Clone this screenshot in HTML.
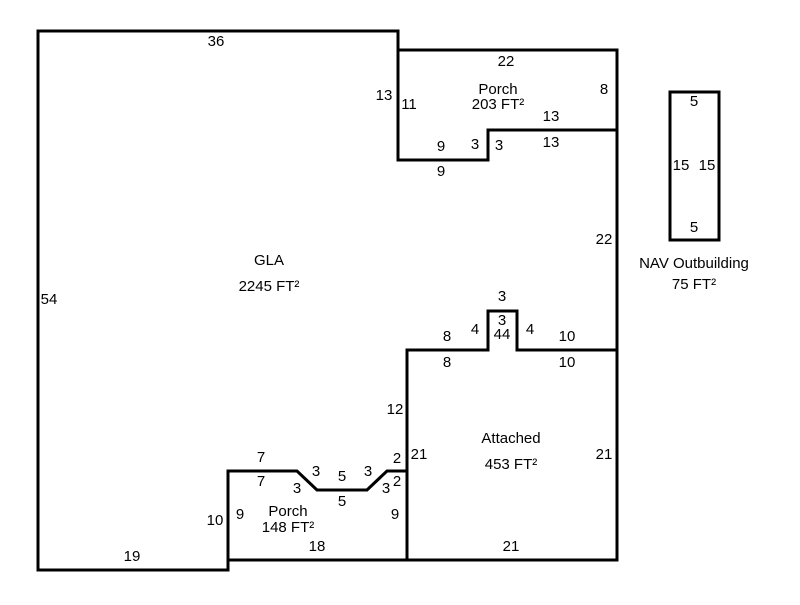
<!DOCTYPE html>
<html><head><style>body{margin:0;background:#fff}</style></head><body>
<svg width="800" height="600" xmlns="http://www.w3.org/2000/svg" font-family="Liberation Sans, sans-serif" font-size="15" fill="#000">
<rect width="800" height="600" fill="#fff"/>
<g stroke="#000" stroke-width="3" fill="none">
<path d="M38,31 H398 V160 H488 V130 H617 V560 H228 V570 H38 Z"/>
<path d="M398,50 H617 V130"/>
<path d="M407,560 V350 H488 V311 H517 V350 H617"/>
<path d="M228,560 V471 H297 L317,490 H367 L387,471 H407"/>
<rect x="670" y="92" width="49" height="148"/>
</g>
<g text-anchor="middle" stroke="none">
<text x="216" y="46">36</text>
<text x="506" y="66">22</text>
<text x="498" y="94">Porch</text>
<text x="498" y="109">203 FT²</text>
<text x="384" y="100">13</text>
<text x="409" y="109">11</text>
<text x="604" y="94">8</text>
<text x="551" y="121">13</text>
<text x="551" y="147">13</text>
<text x="441" y="151">9</text>
<text x="475" y="149">3</text>
<text x="499" y="150">3</text>
<text x="441" y="176">9</text>
<text x="694" y="106">5</text>
<text x="681" y="170">15</text>
<text x="707" y="170">15</text>
<text x="694" y="232">5</text>
<text x="694" y="268">NAV Outbuilding</text>
<text x="694" y="289">75 FT²</text>
<text x="604" y="244">22</text>
<text x="269" y="265">GLA</text>
<text x="269" y="291">2245 FT²</text>
<text x="49" y="304">54</text>
<text x="502" y="301">3</text>
<text x="502" y="325">3</text>
<text x="502" y="339">44</text>
<text x="475" y="334">4</text>
<text x="530" y="334">4</text>
<text x="447" y="341">8</text>
<text x="447" y="367">8</text>
<text x="567" y="341">10</text>
<text x="567" y="367">10</text>
<text x="395" y="414">12</text>
<text x="511" y="443">Attached</text>
<text x="511" y="469">453 FT²</text>
<text x="604" y="459">21</text>
<text x="419" y="459">21</text>
<text x="397" y="463">2</text>
<text x="261" y="462">7</text>
<text x="261" y="486">7</text>
<text x="316" y="476">3</text>
<text x="342" y="481">5</text>
<text x="368" y="476">3</text>
<text x="297" y="493">3</text>
<text x="386" y="493">3</text>
<text x="397" y="486">2</text>
<text x="342" y="506">5</text>
<text x="288" y="516">Porch</text>
<text x="288" y="532">148 FT²</text>
<text x="215" y="525">10</text>
<text x="240" y="519">9</text>
<text x="395" y="519">9</text>
<text x="317" y="551">18</text>
<text x="511" y="551">21</text>
<text x="132" y="561">19</text>
</g>
</svg>
</body></html>
